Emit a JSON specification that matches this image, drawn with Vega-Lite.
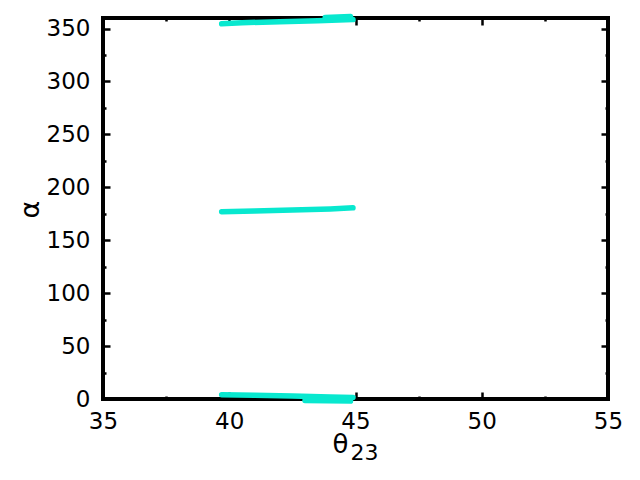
{
  "$schema": "https://vega.github.io/schema/vega-lite/v6.json",
  "width": 505,
  "height": 381,
  "autosize": "none",
  "padding": {"left": 103, "top": 18, "right": 32, "bottom": 81},
  "config": {
    "view": {"stroke": "black", "strokeWidth": 4},
    "font": "DejaVu Sans",
    "axis": {
      "domain": false,
      "grid": false,
      "tickColor": "black",
      "tickWidth": 2.5,
      "labelFont": "DejaVu Sans",
      "labelFontSize": 23,
      "labelColor": "black",
      "titleFont": "DejaVu Sans",
      "titleFontWeight": "normal",
      "titleColor": "black"
    }
  },
  "data": {
    "values": [
      {"s": "mid", "theta": 39.7, "alpha": 177.0},
      {"s": "mid", "theta": 41.0, "alpha": 177.6},
      {"s": "mid", "theta": 42.5, "alpha": 178.5},
      {"s": "mid", "theta": 44.0, "alpha": 179.6},
      {"s": "mid", "theta": 44.9, "alpha": 180.6},
      {"s": "top", "theta": 39.7, "alpha": 354.5},
      {"s": "top", "theta": 40.5, "alpha": 355.5},
      {"s": "top", "theta": 42.0, "alpha": 356.5},
      {"s": "top", "theta": 43.5, "alpha": 357.5},
      {"s": "top", "theta": 44.9, "alpha": 358.5},
      {"s": "top2", "theta": 43.8, "alpha": 360.5},
      {"s": "top2", "theta": 44.8, "alpha": 361.5},
      {"s": "bot", "theta": 39.7, "alpha": 4.0},
      {"s": "bot", "theta": 41.0, "alpha": 3.5},
      {"s": "bot", "theta": 42.5, "alpha": 2.8},
      {"s": "bot", "theta": 44.0, "alpha": 2.0},
      {"s": "bot", "theta": 44.9, "alpha": 1.5},
      {"s": "bot2", "theta": 43.0, "alpha": -1.5},
      {"s": "bot2", "theta": 44.8, "alpha": -2.0}
    ]
  },
  "layer": [
    {
      "mark": {"type": "line", "color": "#08e8cf", "strokeWidth": 5.5, "strokeCap": "round", "clip": false},
      "encoding": {
        "x": {
          "field": "theta", "type": "quantitative",
          "scale": {"domain": [35, 55], "nice": false, "zero": false},
          "axis": {
            "orient": "bottom",
            "title": "θ",
            "titleFontSize": 26,
            "titleX": 237,
            "titleY": 53,
            "titleAlign": "center",
            "titleBaseline": "alphabetic",
            "values": [35, 37.5, 40, 42.5, 45, 47.5, 50, 52.5, 55],
            "tickSize": {"condition": {"test": "datum.value % 5 === 0", "value": -7}, "value": -3},
            "labelExpr": "datum.value % 5 === 0 ? datum.label : ''",
            "labelPadding": 18,
            "labelFlush": false
          }
        },
        "y": {
          "field": "alpha", "type": "quantitative",
          "scale": {"domain": [0, 360], "nice": false, "zero": false},
          "axis": {
            "orient": "left",
            "title": "α",
            "titleFontSize": 27,
            "titleX": -73,
            "titleY": 191,
            "titleAngle": 270,
            "titleAlign": "center",
            "titleBaseline": "middle",
            "values": [0, 25, 50, 75, 100, 125, 150, 175, 200, 225, 250, 275, 300, 325, 350],
            "tickSize": {"condition": {"test": "datum.value % 50 === 0", "value": -7}, "value": -3},
            "labelExpr": "datum.value % 50 === 0 ? datum.label : ''",
            "labelPadding": 20,
            "labelFlush": false
          }
        },
        "detail": {"field": "s", "type": "nominal"}
      }
    },
    {
      "mark": {"type": "line", "opacity": 0},
      "encoding": {
        "x": {
          "field": "theta", "type": "quantitative",
          "axis": {
            "orient": "top",
            "title": "23",
            "titleFontSize": 22,
            "titleX": 247,
            "titleY": 441,
            "titleAlign": "left",
            "titleBaseline": "alphabetic",
            "labels": false,
            "values": [35, 37.5, 40, 42.5, 45, 47.5, 50, 52.5, 55],
            "tickSize": {"condition": {"test": "datum.value % 5 === 0", "value": -7}, "value": -3}
          }
        },
        "y": {
          "field": "alpha", "type": "quantitative",
          "axis": {
            "orient": "right",
            "title": null,
            "labels": false,
            "values": [0, 25, 50, 75, 100, 125, 150, 175, 200, 225, 250, 275, 300, 325, 350],
            "tickSize": {"condition": {"test": "datum.value % 50 === 0", "value": -7}, "value": -3}
          }
        },
        "detail": {"field": "s", "type": "nominal"}
      }
    }
  ],
  "resolve": {"axis": {"x": "independent", "y": "independent"}}
}
